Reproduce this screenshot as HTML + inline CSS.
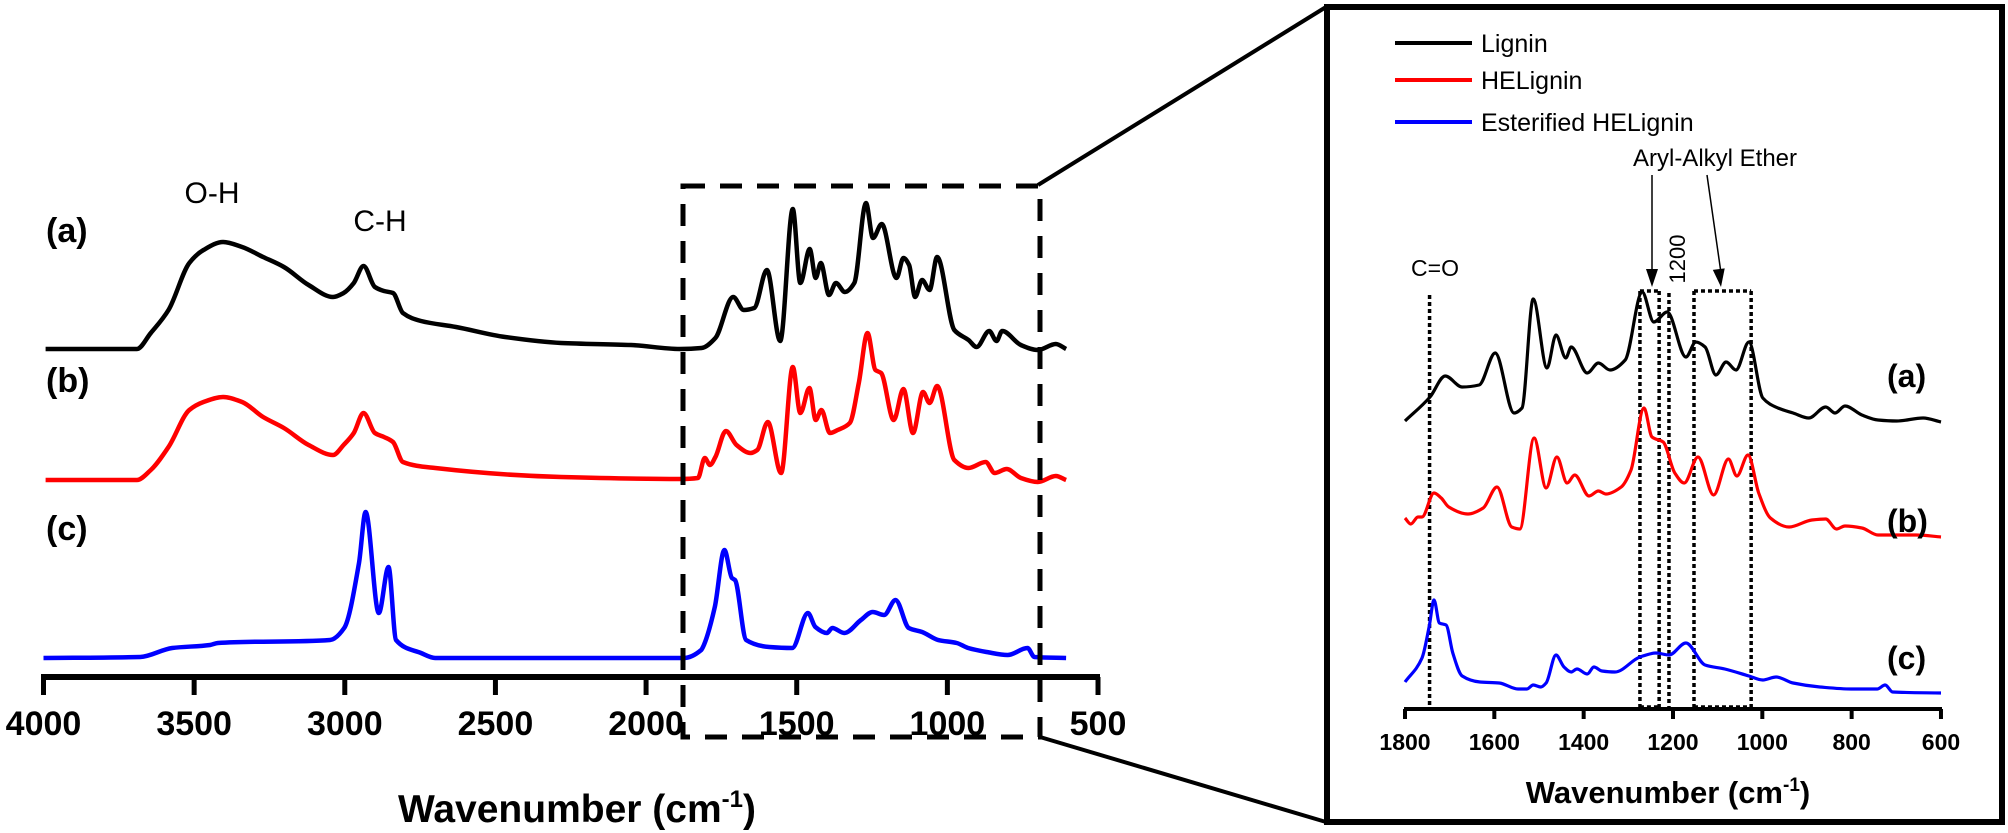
<!DOCTYPE html>
<html><head><meta charset="utf-8"><style>
body{margin:0;background:#fff}
svg{display:block;font-family:"Liberation Sans",Arial,sans-serif}
</style></head><body>
<svg id="fig" width="2008" height="833" viewBox="0 0 2008 833">
<g id="main"></g>
<g id="inset"></g>
</svg>
<script>
// ---------- main chart data ----------
const mainTicks = [4000,3500,3000,2500,2000,1500,1000,500];
const mainAWn = [3993,3690,3644,3585,3516,3469,3404,3341,3271,3202,3120,3039,3004,2970,2938,2900,2870,2840,2807,2747,2631,2468,2282,2050,1888,1816,1770,1711,1676,1641,1599,1555,1513,1488,1457,1437,1420,1393,1370,1340,1309,1270,1247,1218,1169,1146,1127,1107,1084,1059,1034,977,930,903,861,837,818,756,700,640,606];
const mainAVal = [0,0,0.16,0.39,0.86,0.99,1.07,1.02,0.92,0.82,0.64,0.52,0.56,0.66,0.83,0.62,0.58,0.56,0.36,0.28,0.22,0.12,0.06,0.04,0,0.01,0.11,0.52,0.39,0.41,0.79,0.08,1.40,0.66,1.00,0.71,0.86,0.54,0.66,0.57,0.66,1.46,1.11,1.25,0.71,0.91,0.84,0.52,0.69,0.59,0.92,0.19,0.09,0.02,0.18,0.08,0.18,0.04,-0.01,0.05,0];
const mainBWn = [3993,3690,3644,3585,3516,3469,3404,3341,3271,3202,3120,3039,3004,2970,2938,2900,2870,2840,2807,2700,2282,1888,1828,1805,1788,1770,1735,1700,1653,1631,1596,1552,1513,1488,1458,1437,1418,1390,1364,1324,1294,1265,1239,1220,1178,1146,1114,1081,1059,1034,977,930,873,843,803,756,700,640,606];
const mainBVal = [0,0,0.10,0.33,0.70,0.78,0.83,0.78,0.63,0.52,0.35,0.25,0.35,0.47,0.67,0.47,0.43,0.38,0.18,0.12,0.03,0.01,0.02,0.22,0.15,0.23,0.49,0.35,0.27,0.30,0.58,0.07,1.13,0.67,0.92,0.60,0.70,0.47,0.50,0.57,0.97,1.47,1.10,1.07,0.60,0.91,0.47,0.88,0.77,0.94,0.20,0.12,0.18,0.07,0.11,0.02,-0.02,0.04,0];
const mainCWn = [4000,3679,3573,3447,3421,3049,3002,2953,2931,2887,2855,2830,2747,2700,1875,1817,1811,1772,1740,1715,1705,1668,1591,1515,1463,1438,1400,1382,1342,1287,1248,1210,1172,1128,1084,1030,969,931,870,800,734,711,606];
const mainCVal = [0,0.01,0.10,0.13,0.15,0.18,0.30,0.95,1.46,0.45,0.91,0.18,0.05,0,0,0.08,0.11,0.51,1.08,0.80,0.78,0.18,0.11,0.10,0.45,0.31,0.25,0.30,0.25,0.38,0.46,0.43,0.58,0.30,0.26,0.18,0.15,0.10,0.06,0.03,0.10,0.01,0];
const mainOffsets = [3.28, 1.97, 0.19];
// ---------- inset data ----------
const insetTicks = [1800,1600,1400,1200,1000,800,600];
const insetAWn = [1800,1744,1710,1672,1634,1598,1556,1538,1513,1482,1462,1440,1428,1392,1367,1341,1307,1269,1243,1213,1171,1149,1128,1104,1081,1059,1030,999,965,931,896,858,837,815,777,741,699,640,600];
const insetAVal = [0.01,0.25,0.46,0.35,0.37,0.69,0.09,0.14,1.23,0.54,0.87,0.64,0.75,0.49,0.59,0.52,0.62,1.30,1.00,1.10,0.65,0.80,0.75,0.47,0.60,0.52,0.80,0.24,0.14,0.09,0.04,0.15,0.09,0.16,0.07,0.02,0.01,0.04,0];
const insetBWn = [1800,1787,1771,1762,1735,1719,1702,1659,1625,1594,1561,1543,1511,1484,1460,1437,1420,1388,1367,1350,1316,1294,1265,1247,1222,1196,1175,1144,1109,1076,1057,1032,1008,982,940,889,858,834,815,777,741,656,600];
const insetBVal = [0.19,0.13,0.20,0.20,0.44,0.39,0.30,0.23,0.29,0.50,0.10,0.08,0.99,0.49,0.80,0.54,0.62,0.41,0.46,0.43,0.50,0.67,1.29,1.00,0.95,0.64,0.54,0.80,0.42,0.78,0.61,0.82,0.44,0.19,0.10,0.17,0.18,0.08,0.11,0.09,0.02,0.02,0];
const insetCWn = [1800,1762,1746,1735,1723,1708,1693,1672,1632,1589,1547,1527,1513,1496,1484,1462,1444,1428,1415,1392,1377,1359,1330,1274,1238,1209,1171,1128,1084,1030,999,969,931,871,801,743,725,708,600];
const insetCVal = [0.11,0.35,0.66,0.93,0.70,0.68,0.40,0.17,0.11,0.10,0.04,0.04,0.08,0.06,0.10,0.38,0.26,0.21,0.24,0.19,0.26,0.22,0.21,0.36,0.40,0.38,0.50,0.28,0.24,0.17,0.13,0.16,0.10,0.06,0.04,0.04,0.08,0.01,0];
const insetOffsets = [2.87, 1.72, 0.16];
const markerWn = [1745,1274,1231,1209,1153,1025];
const seriesNames = ["Lignin","HELignin","Esterified HELignin"];
const colors = ["#000","#f00","#00f"];

const NS="http://www.w3.org/2000/svg";
function mk(parent,tag,attrs,text){const e=document.createElementNS(NS,tag);for(const k in attrs)e.setAttribute(k,attrs[k]);if(text!==undefined)e.textContent=text;parent.appendChild(e);return e;}
// monotone-x cubic (no overshoot, no x backtracking)
function smooth(pts){
  const n=pts.length, s=[], m=[];
  for(let i=0;i<n-1;i++){const dx=pts[i+1][0]-pts[i][0];s.push(dx?(pts[i+1][1]-pts[i][1])/dx:0);}
  for(let i=0;i<n;i++){
    if(i===0)m.push(s[0]);else if(i===n-1)m.push(s[n-2]);
    else{const a=s[i-1],b=s[i]; if(a*b<=0)m.push(0); else{const h0=pts[i][0]-pts[i-1][0],h1=pts[i+1][0]-pts[i][0];m.push(3*(h0+h1)/((2*h1+h0)/a+(h1+2*h0)/b));}}
  }
  let d='M'+pts[0][0].toFixed(1)+' '+pts[0][1].toFixed(1);
  for(let i=0;i<n-1;i++){
    const h=(pts[i+1][0]-pts[i][0])/3;
    d+=` C${(pts[i][0]+h).toFixed(1)} ${(pts[i][1]+m[i]*h).toFixed(1)} ${(pts[i+1][0]-h).toFixed(1)} ${(pts[i+1][1]-m[i+1]*h).toFixed(1)} ${pts[i+1][0].toFixed(1)} ${pts[i+1][1].toFixed(1)}`;
  }
  return d;
}

// main axes
const mx = w => 43.5 + (4000 - w) * 0.30129;
const my = (v,o) => 677 - (v + o) * 100;
const main = document.getElementById('main');
const axL = mk(main,'line',{x1:41,y1:677,x2:1100,y2:677,stroke:'#000','stroke-width':6});


mainTicks.forEach(t=>{
  const tk=mk(main,'line',{x1:mx(t),y1:677,x2:mx(t),y2:695,stroke:'#000','stroke-width':5});
  
  
  const lb=mk(main,'text',{x:mx(t),y:735,'text-anchor':'middle','font-size':34,'font-weight':'bold'},String(t));
  
  
});
const mt=mk(main,'text',{x:577,y:822,'text-anchor':'middle','font-size':39,'font-weight':'bold'});


mt.innerHTML='Wavenumber (cm<tspan dy="-15" font-size="24">-1</tspan><tspan dy="15">)</tspan>';
const mainSeries=[[mainAWn,mainAVal],[mainBWn,mainBVal],[mainCWn,mainCVal]];
const mainNames=['series-a-lignin','series-b-helignin','series-c-esterified'];
mainSeries.forEach((s,i)=>{
  const pts=s[0].map((w,j)=>[mx(w),my(s[1][j],mainOffsets[i])]);
  const p=mk(main,'path',{d:smooth(pts),fill:'none',stroke:colors[i],'stroke-width':4.5,'stroke-linejoin':'round'});
  
  
});
[['(a)',230],['(b)',380],['(c)',528]].forEach((l,i)=>{
  const t=mk(main,'text',{x:46,y:l[1]+12,'font-size':34,'font-weight':'bold'},l[0]);
  
  
});
const oh=mk(main,'text',{x:212,y:203,'text-anchor':'middle','font-size':30},'O-H');


const ch=mk(main,'text',{x:380,y:231,'text-anchor':'middle','font-size':30},'C-H');


const zb=mk(main,'rect',{x:683,y:186,width:357,height:551,fill:'none',stroke:'#000','stroke-width':5,'stroke-dasharray':'22 15'});


const c1=mk(main,'line',{x1:1038,y1:185,x2:1326,y2:7,stroke:'#000','stroke-width':4});


const c2=mk(main,'line',{x1:1040,y1:737,x2:1326,y2:822,stroke:'#000','stroke-width':4});



// inset
const ix = w => 1405 + (1800 - w) * 0.44665;
const iy = (v,o) => 709 - (v + o) * 100;
const ins = document.getElementById('inset');
const frame=mk(ins,'rect',{x:1327,y:7,width:675,height:815,fill:'none',stroke:'#000','stroke-width':6});


const iax=mk(ins,'line',{x1:1404,y1:709,x2:1942,y2:709,stroke:'#000','stroke-width':4});


insetTicks.forEach(t=>{
  const tk=mk(ins,'line',{x1:ix(t),y1:709,x2:ix(t),y2:719,stroke:'#000','stroke-width':4});
  
  
  const lb=mk(ins,'text',{x:ix(t),y:750,'text-anchor':'middle','font-size':23,'font-weight':'bold'},String(t));
  
  
});
const it=mk(ins,'text',{x:1668,y:803,'text-anchor':'middle','font-size':31,'font-weight':'bold'});


it.innerHTML='Wavenumber (cm<tspan dy="-12" font-size="19">-1</tspan><tspan dy="12">)</tspan>';
const mTops=[295,291,291,293,291,291];
markerWn.forEach((w,i)=>{
  const l=mk(ins,'line',{x1:ix(w),y1:mTops[i],x2:ix(w),y2:709,stroke:'#000','stroke-width':3.5,'stroke-dasharray':'4 3'});
  
  
});
[[1,2],[4,5]].forEach(p=>{
  const l=mk(ins,'line',{x1:ix(markerWn[p[0]]),y1:291,x2:ix(markerWn[p[1]]),y2:291,stroke:'#000','stroke-width':3.5,'stroke-dasharray':'4 3'});
  
  
  const b=mk(ins,'line',{x1:ix(markerWn[p[0]]),y1:707,x2:ix(markerWn[p[1]]),y2:707,stroke:'#000','stroke-width':3.5,'stroke-dasharray':'4 3'});
  
  
});
const insetSeries=[[insetAWn,insetAVal],[insetBWn,insetBVal],[insetCWn,insetCVal]];
insetSeries.forEach((s,i)=>{
  const pts=s[0].map((w,j)=>[ix(w),iy(s[1][j],insetOffsets[i])]);
  const p=mk(ins,'path',{d:smooth(pts),fill:'none',stroke:colors[i],'stroke-width':3.2,'stroke-linejoin':'round'});
  
  
});
[['(a)',375],['(b)',520],['(c)',657]].forEach(l=>{
  const t=mk(ins,'text',{x:1887,y:l[1]+12,'font-size':32,'font-weight':'bold'},l[0]);
  
  
});
[43,80,122].forEach((y,i)=>{
  const l=mk(ins,'line',{x1:1395,y1:y,x2:1472,y2:y,stroke:colors[i],'stroke-width':4});
  
  
  const t=mk(ins,'text',{x:1481,y:y+9,'font-size':25},seriesNames[i]);
  
  
});
const co=mk(ins,'text',{x:1435,y:276,'text-anchor':'middle','font-size':23},'C=O');


const ae=mk(ins,'text',{x:1715,y:166,'text-anchor':'middle','font-size':24},'Aryl-Alkyl Ether');


const r12=mk(ins,'text',{x:0,y:0,'text-anchor':'middle','font-size':22,transform:'translate(1685,259) rotate(-90)'},'1200');


[[1652,175,1652,287],[1707,175,1721,287]].forEach(a=>{
  const l=mk(ins,'line',{x1:a[0],y1:a[1],x2:a[2],y2:a[3]-14,stroke:'#000','stroke-width':1.5});
  
  
  const ang=Math.atan2(a[3]-a[1],a[2]-a[0]);
  const px=-Math.sin(ang)*6,py=Math.cos(ang)*6,bx=a[2]-Math.cos(ang)*18,by=a[3]-Math.sin(ang)*18;
  const h=mk(ins,'polygon',{points:`${a[2]},${a[3]} ${bx+px},${by+py} ${bx-px},${by-py}`,fill:'#000'});
  
  
});
</script>
</body></html>
